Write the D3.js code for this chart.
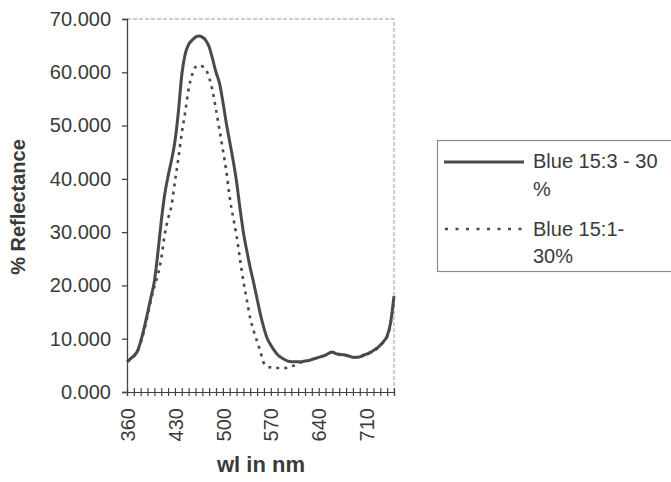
<!DOCTYPE html>
<html>
<head>
<meta charset="utf-8">
<script src="https://cdn.jsdelivr.net/npm/d3@7"></script>
<style>
  body { margin: 0; background: #fff; }
  svg text { font-family: "Liberation Sans", Arial, sans-serif; fill: #3a3a3a; }
</style>
</head>
<body>
<div id="chart"></div>
<script>
// Wellenlaengen (nm) und Reflexionswerte
const wavelengths = [
  360, 365, 370, 375, 380, 385, 390, 395, 400, 405,
  410, 415, 420, 425, 430, 435, 440, 445, 450, 455,
  460, 465, 470, 475, 480, 485, 490, 495, 500, 505,
  510, 515, 520, 525, 530, 535, 540, 545, 550, 555,
  560, 565, 570, 575, 580, 585, 590, 595, 600, 605,
  610, 615, 620, 625, 630, 635, 640, 645, 650, 655,
  660, 665, 670, 675, 680, 685, 690, 695, 700, 705,
  710, 715, 720, 725, 730, 735, 740, 745, 750
];

// Blue 15:3 - 30 %
const blue153 = [
  5.7, 6.2, 6.8, 7.6, 9.5, 12.0, 14.8, 17.8, 20.8, 26.0,
  32.0, 37.0, 40.5, 43.5, 47.0, 52.5, 59.5, 63.4, 65.2, 66.0,
  66.6, 66.8, 66.6, 66.0, 64.8, 62.5, 60.0, 58.0, 54.5, 50.5,
  47.0, 43.5, 39.5, 34.5, 30.0, 26.5, 23.3, 20.5, 17.5, 14.5,
  12.0, 10.0, 8.8, 7.8, 7.0, 6.5, 6.1, 5.8, 5.7, 5.7,
  5.7, 5.7, 5.8, 5.9, 6.1, 6.3, 6.5, 6.7, 6.9, 7.3,
  7.5, 7.2, 7.1, 7.0, 6.9, 6.7, 6.5, 6.5, 6.6, 6.9,
  7.1, 7.4, 7.8, 8.2, 8.8, 9.5, 10.5, 13.0, 18.0
];

// Blue 15:1- 30%
const blue151 = [
  5.7, 6.1, 6.7, 7.5, 9.2, 11.5, 14.3, 17.2, 19.8, 22.0,
  25.0, 29.5, 32.5, 35.0, 39.5, 43.8, 48.6, 52.5, 56.8, 59.5,
  61.0, 61.3, 61.1, 60.6, 59.0, 56.5, 53.0, 49.3, 45.5, 41.5,
  36.5, 32.8, 29.3, 25.0, 20.8, 17.3, 13.8, 11.5, 9.5, 7.5,
  5.4, 4.8, 4.6, 4.5, 4.5, 4.5, 4.5, 4.6, 4.8, 5.0,
  5.3, 5.6, 5.8, 5.9, 6.1, 6.3, 6.5, 6.7, 6.9, 7.2,
  7.4, 7.1, 7.0, 6.9, 6.8, 6.7, 6.5, 6.5, 6.6, 6.8,
  7.1, 7.4, 7.7, 8.1, 8.7, 9.4, 10.4, 12.8, 17.5
];

const yTicks = [0, 10, 20, 30, 40, 50, 60, 70];
const xTickLabels = [360, 430, 500, 570, 640, 710];

const width = 671;
const height = 482;
const lineColor = "#4a4a4a";

const svg = d3.select("#chart").append("svg")
    .attr("width", width)
    .attr("height", height);

// Skalen
const x = d3.scaleLinear().domain([360, 750]).range([127, 394]);
const y = d3.scaleLinear().domain([0, 70]).range([392, 19]);

// Rahmen der Zeichenflaeche (oben und rechts gestrichelt)
svg.append("path")
    .attr("d", `M${x(360)},${y(70)}H${x(750)}V${y(0)}`)
    .attr("fill", "none")
    .attr("stroke", "#9a9a9a")
    .attr("stroke-width", 1)
    .attr("stroke-dasharray", "4,2");

// Y-Achse
const yAxis = svg.append("g")
    .attr("transform", `translate(${x(360)},0)`)
    .call(d3.axisLeft(y).tickValues(yTicks).tickSize(5).tickPadding(11)
        .tickFormat(d3.format(".3f")));
yAxis.selectAll("path, line").attr("stroke", "#444").attr("stroke-width", 1.3);
yAxis.selectAll("text").style("font-size", "20px").attr("fill", "#3a3a3a");

// X-Achse: kleine Kreuz-Ticks alle 10 nm
const xAxis = svg.append("g")
    .attr("transform", `translate(0,${y(0)})`)
    .call(d3.axisBottom(x).tickValues(d3.range(360, 751, 10)).tickSize(4).tickFormat(""));
xAxis.selectAll("path, line").attr("stroke", "#444").attr("stroke-width", 1.2);
xAxis.selectAll("line").attr("y1", -4);

// X-Beschriftungen gedreht
const xLabels = svg.append("g")
    .attr("transform", `translate(0,${y(0)})`)
    .call(d3.axisBottom(x).tickValues(xTickLabels).tickSize(0));
xLabels.select(".domain").remove();
xLabels.selectAll("text")
    .attr("transform", "rotate(-90)")
    .attr("x", -16)
    .attr("y", 0)
    .attr("dy", "0.36em")
    .attr("text-anchor", "end")
    .style("font-size", "20px")
    .attr("fill", "#3a3a3a");

// Achsentitel
svg.append("text")
    .attr("transform", `translate(25,207) rotate(-90)`)
    .attr("text-anchor", "middle")
    .style("font-size", "20px")
    .style("font-weight", "bold")
    .text("% Reflectance");

svg.append("text")
    .attr("x", 261)
    .attr("y", 472)
    .attr("text-anchor", "middle")
    .style("font-size", "22px")
    .style("font-weight", "bold")
    .text("wl in nm");

// Linien
const line = d3.line()
    .x((d, i) => x(wavelengths[i]))
    .y(d => y(d))
    .curve(d3.curveMonotoneX);

svg.append("path")
    .datum(blue153)
    .attr("d", line)
    .attr("fill", "none")
    .attr("stroke", lineColor)
    .attr("stroke-width", 3);

svg.append("path")
    .datum(blue151)
    .attr("d", line)
    .attr("fill", "none")
    .attr("stroke", lineColor)
    .attr("stroke-width", 2.6)
    .attr("stroke-dasharray", "3,5");

// Legende
const legend = svg.append("g");
legend.append("rect")
    .attr("x", 437.5)
    .attr("y", 140.5)
    .attr("width", 240)
    .attr("height", 131)
    .attr("fill", "#fff")
    .attr("stroke", "#8a8a8a")
    .attr("stroke-width", 1.2);

legend.append("line")
    .attr("x1", 444).attr("x2", 524)
    .attr("y1", 162).attr("y2", 162)
    .attr("stroke", lineColor)
    .attr("stroke-width", 3);

legend.append("line")
    .attr("x1", 445).attr("x2", 522)
    .attr("y1", 229).attr("y2", 229)
    .attr("stroke", lineColor)
    .attr("stroke-width", 2.6)
    .attr("stroke-dasharray", "3,7.5");

const legendLines = [
    { text: "Blue 15:3 - 30", y: 168 },
    { text: "%", y: 196 },
    { text: "Blue 15:1-", y: 236 },
    { text: "30%", y: 263 }
];
legend.selectAll("text.lg")
    .data(legendLines)
    .join("text")
    .attr("class", "lg")
    .attr("x", 533)
    .attr("y", d => d.y)
    .style("font-size", "20px")
    .text(d => d.text);
</script>
</body>
</html>
